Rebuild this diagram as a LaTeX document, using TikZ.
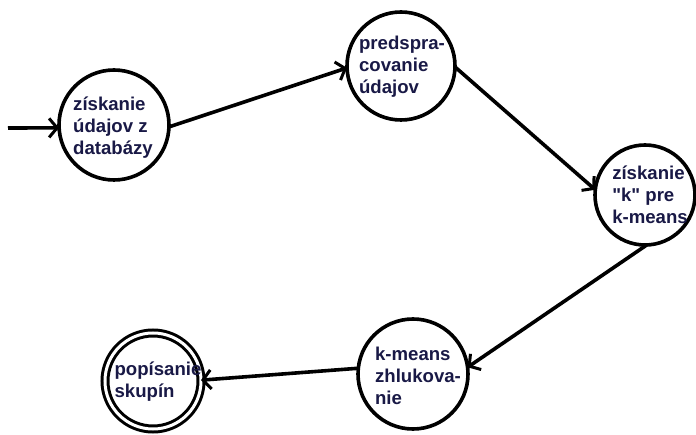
\documentclass[tikz,border=0pt]{standalone}
\usepackage{fontspec}
\setmainfont{Liberation Sans}[Ligatures=TeXOff]
\usetikzlibrary{arrows.meta}
\definecolor{txt}{RGB}{25,25,70}
\tikzset{
  state/.style={circle, draw=black, line width=3.6pt, minimum size=#1, inner sep=0pt, outer sep=0pt},
  final/.style={circle, draw=black, line width=3pt, double=white, double distance=3pt, minimum size=#1, inner sep=0pt, outer sep=0pt},
  lbl/.style={text=txt, align=left, inner sep=0pt, font=\fontsize{18.6}{22}\selectfont\bfseries},
  conn/.style={line width=3.6pt, -{Straight Barb[length=8pt,width=19pt,line width=3pt]}}
}
\begin{document}
\begin{tikzpicture}[x=1pt,y=-1pt]
\fill[white] (0,0) rectangle (696,435);
\useasboundingbox (0,0) rectangle (696,435);
\node[state=110pt] (c1) at (114,125) {};
\node[state=108pt] (c2) at (401,66) {};
\node[state=100pt] (c3) at (645,195) {};
\node[state=110pt] (c4) at (413,374) {};
\node[final=96pt] (c5) at (153,381) {};
\node[lbl] (t1) at (113,128) {získanie\\údajov z\\databázy};
\node[lbl] (t2) at (402,67) {predspra-\\covanie\\údajov};
\node[lbl] (t3) at (650,195) {získanie\\"k" pre\\k-means};
\node[lbl] (t4) at (418,376) {k-means\\zhlukova-\\nie};
\node[lbl] (t5) at (158,382) {popísanie\\skupín};
\coordinate (s) at (8,128);
\draw[conn] (s) -- (c1.183);
\draw[conn] (c1.-2) -- (c2.182);
\draw[conn] (c2.-1) -- (c3.174);
\draw[conn] (c3.-88) -- (c4.7);
\draw[conn] (c4.174) -- (c5.1);
\end{tikzpicture}
\end{document}
